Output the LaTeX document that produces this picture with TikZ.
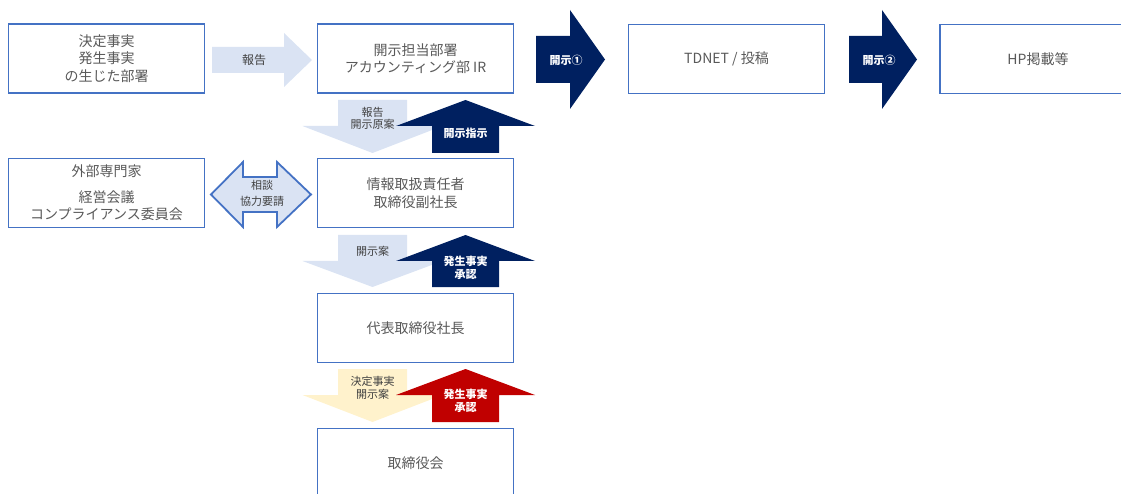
\documentclass[tikz,border=0pt]{standalone}
\usepackage{fontspec}
\setmainfont{Noto Sans CJK JP}
\usepackage{tikz}
\usepackage{xcolor}
\usetikzlibrary{positioning,shapes,arrows}
\definecolor{boxblue}{HTML}{4472C4}
\definecolor{paleblue}{HTML}{DAE3F3}
\definecolor{navy}{HTML}{002060}
\definecolor{paleyellow}{HTML}{FFF2CC}
\definecolor{darkred}{HTML}{C00000}
\definecolor{boxtext}{HTML}{595959}
\definecolor{arrowtext}{HTML}{404040}

\begin{document}
\begin{tikzpicture}[x=1pt,y=-1pt,
  box/.style={draw=boxblue,line width=1.8pt,fill=white,minimum width=196pt,minimum height=69pt,align=center,text=boxtext,font=\fontsize{14}{17.5}\selectfont},
  tag/.style={align=center,text=arrowtext,font=\fontsize{11}{12.5}\selectfont},
  boldtag/.style={align=center,text=white,font=\bfseries\fontsize{11}{12.5}\selectfont}]
\tikzstyle{every node}+=[inner sep=0pt]
\useasboundingbox (0,0) rectangle (1121,494);
\node[box] (origin) at (106.5,58.5) {決定事実\\発生事実\\の生じた部署};
\node[box] (ir) at (415.5,58.5) {開示担当部署\\アカウンティング部 IR};
\node[box] (tdnet) at (726.5,59) {TDNET / 投稿};
\node[box] (hp) at (1038,59) {HP掲載等};
\node[box] (expert) at (106.5,193) {外部専門家\\[8pt]経営会議\\コンプライアンス委員会};
\node[box] (officer) at (415.5,193) {情報取扱責任者\\取締役副社長};
\node[box] (ceo) at (415.5,328) {代表取締役社長};
\node[box] (board) at (415.5,463) {取締役会};
\fill [paleblue] (212,47) -- (284,47) -- (284,33) -- (312,60) -- (284,87) -- (284,73) -- (212,73) -- cycle;
\node[tag,font=\fontsize{12}{14}\selectfont] (report) at (254,60) {報告};
\fill [navy] (536,36) -- (570,36) -- (570,10) -- (605,59.5) -- (570,109) -- (570,83) -- (536,83) -- cycle;
\node[boldtag] (disc1) at (566,60) {開示①};
\fill [navy] (849,36) -- (882,36) -- (882,10) -- (917,59.5) -- (882,109) -- (882,83) -- (849,83) -- cycle;
\node[boldtag] (disc2) at (879,60) {開示②};
\filldraw [fill=paleblue,draw=boxblue,line width=1.8pt] (211,194.5) -- (243,162) -- (243,177) -- (277,177) -- (277,162) -- (311,194.5) -- (277,227) -- (277,212) -- (243,212) -- (243,227) -- cycle;
\node[tag,font=\fontsize{11}{16.5}\selectfont] (consult) at (262,193.5) {相談\\協力要請};
\fill [paleblue] (338,100) -- (407,100) -- (407,126) -- (442.5,126) -- (372.5,153) -- (302.5,126) -- (338,126) -- cycle;
\fill [navy] (432,153) -- (432,126) -- (396,126) -- (465.5,100) -- (535,126) -- (499,126) -- (499,153) -- cycle;
\node[tag] (draft) at (372.5,118.5) {報告\\開示原案};
\node[boldtag] (order) at (465.5,133) {開示指示};
\fill [paleblue] (338,235) -- (407,235) -- (407,261) -- (442.5,261) -- (372.5,287) -- (302.5,261) -- (338,261) -- cycle;
\fill [navy] (432,287) -- (432,261) -- (396,261) -- (465.5,235) -- (535,261) -- (499,261) -- (499,287) -- cycle;
\node[tag] (plan) at (372.5,251) {開示案};
\node[boldtag] (approve) at (465.5,268) {発生事実\\承認};
\fill [paleyellow] (338,369) -- (407,369) -- (407,395) -- (442.5,395) -- (372.5,422) -- (302.5,395) -- (338,395) -- cycle;
\fill [darkred] (432,422) -- (432,395) -- (396,395) -- (465.5,369) -- (535,395) -- (499,395) -- (499,422) -- cycle;
\node[tag] (decision) at (372.5,388) {決定事実\\開示案};
\node[boldtag] (approve2) at (465.5,401) {発生事実\\承認};
\end{tikzpicture}
\end{document}
